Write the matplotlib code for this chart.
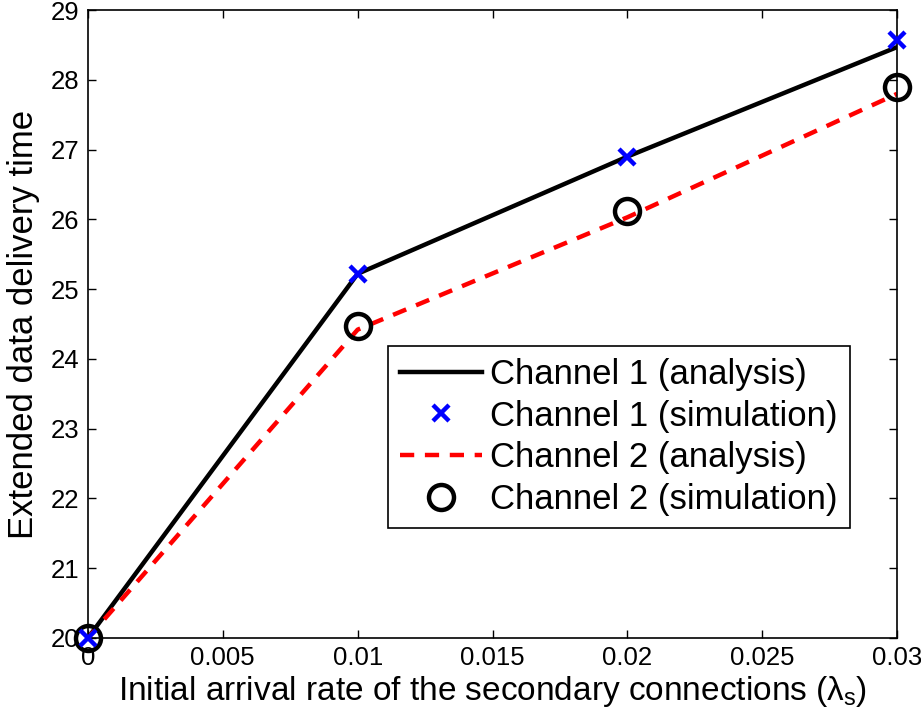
import matplotlib
matplotlib.use("Agg")
import matplotlib.pyplot as plt

plt.rcParams['font.family'] = ['Liberation Sans', 'DejaVu Sans']
plt.rcParams['mathtext.fontset'] = 'custom'
plt.rcParams['mathtext.rm'] = 'Liberation Sans'
plt.rcParams['mathtext.it'] = 'Liberation Sans'
plt.rcParams['mathtext.sf'] = 'Liberation Sans'

# arrival rate of secondary connections
lam = [0.0, 0.01, 0.02, 0.03]
ch1_analysis = [20.0, 25.22, 26.90, 28.47]
ch1_simulation = [20.0, 25.22, 26.90, 28.57]
ch2_analysis = [20.0, 24.42, 26.03, 27.80]
ch2_simulation = [20.0, 24.47, 26.12, 27.90]

xticks = [0, 0.005, 0.01, 0.015, 0.02, 0.025, 0.03]
xtick_labels = ['0', '0.005', '0.01', '0.015', '0.02', '0.025', '0.03']
yticks = list(range(20, 30))

fig = plt.figure(figsize=(9.21, 7.23), dpi=100)
ax = fig.add_axes([0.0955, 0.1176, 0.8785, 0.8684])

ax.plot(lam, ch1_analysis, color='black', lw=3.2, label='Channel 1 (analysis)')
ax.plot(lam, ch1_simulation, ls='none', marker='x', color='blue', ms=12, mew=3.2,
        label='Channel 1 (simulation)', clip_on=False, zorder=4)
ax.plot(lam, ch2_analysis, color='red', lw=3.2, ls=(0, (3.2, 2.4)),
        label='Channel 2 (analysis)')
ax.plot(lam, ch2_simulation, ls='none', marker='o', mfc='none', mec='black', ms=18,
        mew=3.2, label='Channel 2 (simulation)', clip_on=False, zorder=3)

ax.set_xlim(0, 0.03)
ax.set_ylim(20, 29)
ax.set_xticks(xticks)
ax.set_xticklabels(xtick_labels)
ax.set_yticks(yticks)
ax.tick_params(direction='in', length=6, width=1, top=True, right=True,
               labelsize=18.5, pad=6)
for s in ax.spines.values():
    s.set_linewidth(1.2)

ax.set_xlabel(r'Initial arrival rate of the secondary connections ($\lambda_{\mathrm{s}}$)',
              fontsize=24, labelpad=3)
ax.set_ylabel('Extended data delivery time', fontsize=25, labelpad=8)

leg = ax.legend(loc='lower right', bbox_to_anchor=(0.942, 0.175), fontsize=25,
                frameon=True, fancybox=False, edgecolor='black', framealpha=1,
                handlelength=2.35, handletextpad=0.25, labelspacing=0.25,
                borderpad=0.35, borderaxespad=0)
leg.get_frame().set_linewidth(1.2)

fig.savefig('out.png', dpi=100)
